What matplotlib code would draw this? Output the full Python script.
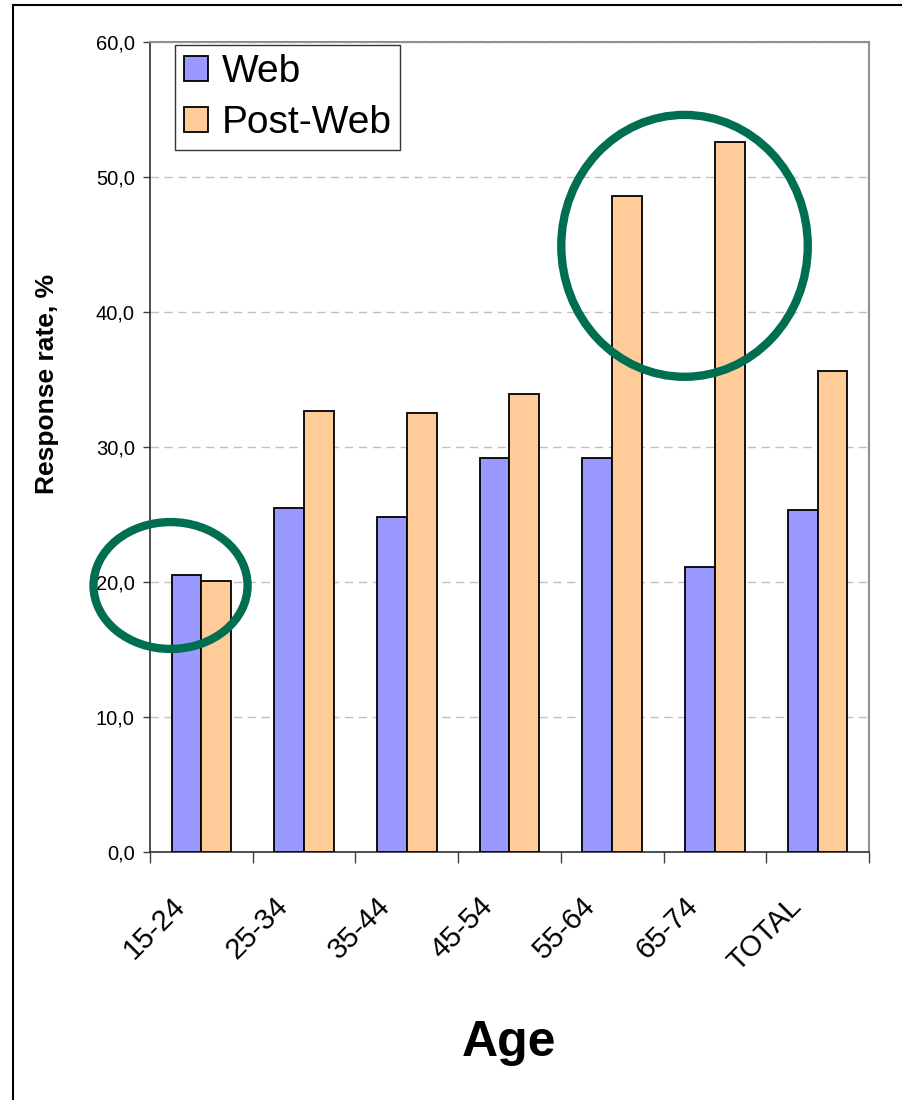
import numpy as np
import matplotlib
matplotlib.use('Agg')
import matplotlib.pyplot as plt
from matplotlib.patches import Ellipse, Rectangle
from matplotlib.transforms import ScaledTranslation

plt.rcParams['font.family'] = ['Liberation Sans', 'DejaVu Sans']

ages = ['15-24', '25-34', '35-44', '45-54', '55-64', '65-74', 'TOTAL']
web = [20.5, 25.5, 24.8, 29.2, 29.2, 21.1, 25.3]
post_web = [20.1, 32.7, 32.5, 33.9, 48.6, 52.6, 35.6]
yticks = [0, 10, 20, 30, 40, 50, 60]
ytick_labels = ['0,0', '10,0', '20,0', '30,0', '40,0', '50,0', '60,0']

W, H = 903, 1100
fig = plt.figure(figsize=(W/100, H/100), dpi=100)
ax = fig.add_axes([150/W, 1-852/H, (869-150)/W, (852-42)/H])

x = np.arange(len(ages))
bw = 0.29
ax.bar(x - bw/2, web, bw, color='#9999ff', edgecolor='black', linewidth=1.3,
       label='Web', zorder=3)
ax.bar(x + bw/2, post_web, bw, color='#ffcc99', edgecolor='black', linewidth=1.3,
       label='Post-Web', zorder=3)

ax.set_xlim(-0.5, len(ages)-0.5)
ax.set_ylim(0, 60)
ax.set_yticks(yticks)
ax.set_yticklabels(ytick_labels, fontsize=14.5)
ax.yaxis.grid(True, linestyle=(0, (6, 4)), color='#c0c0c0', linewidth=1, zorder=0)

# category ticks at boundaries, labels at centers
ax.set_xticks(np.arange(len(ages)+1) - 0.5)
ax.set_xticklabels([])
ax.set_xticks(x, minor=True)
ax.set_xticklabels(ages, minor=True, rotation=45, ha='right', va='center',
                   rotation_mode='anchor', fontsize=21)
ax.tick_params(axis='x', which='minor', length=0, pad=36)
ax.tick_params(axis='x', which='major', length=8, width=1, direction='out', color='#404040')
ax.tick_params(axis='y', length=5, width=1, direction='out', color='#404040', pad=6)
for lbl in ax.get_xticklabels(minor=True):
    lbl.set_transform(lbl.get_transform() + ScaledTranslation(-0.21, 0, fig.dpi_scale_trans))

for s in ['top', 'right']:
    ax.spines[s].set_color('#909090')
    ax.spines[s].set_linewidth(1.5)
for s in ['left', 'bottom']:
    ax.spines[s].set_color('#303030')
    ax.spines[s].set_linewidth(1.2)

ax.set_ylabel('Response rate, %', fontsize=19, fontweight='bold')
ax.yaxis.set_label_coords(-0.127, 0.578)
ax.set_xlabel('Age', fontsize=36, fontweight='bold')
ax.xaxis.set_label_coords(0.5, -0.207)

leg = ax.legend(loc='upper left', bbox_to_anchor=(0.035, 0.996), fontsize=28,
                frameon=True, fancybox=False, edgecolor='black', borderpad=0.22,
                handlelength=0.62, handleheight=0.62, handletextpad=0.35,
                labelspacing=0.4, borderaxespad=0)
leg.get_frame().set_linewidth(1)

green = '#006f51'
ax.add_patch(Ellipse((4.704, 44.9), 2.40, 19.4, fill=False, edgecolor=green,
                     linewidth=6, zorder=5, clip_on=False))
ax.add_patch(Ellipse((-0.30, 19.74), 1.50, 9.4, fill=False, edgecolor=green,
                     linewidth=6, zorder=5, clip_on=False))

# outer frame (cut off at right and bottom, like the source)
fig.patches.append(Rectangle((13/W, -0.1), 1.2, 1-5/H + 0.1, transform=fig.transFigure,
                             fill=False, edgecolor='black', linewidth=1.5))

fig.savefig('out.png', dpi=100)
